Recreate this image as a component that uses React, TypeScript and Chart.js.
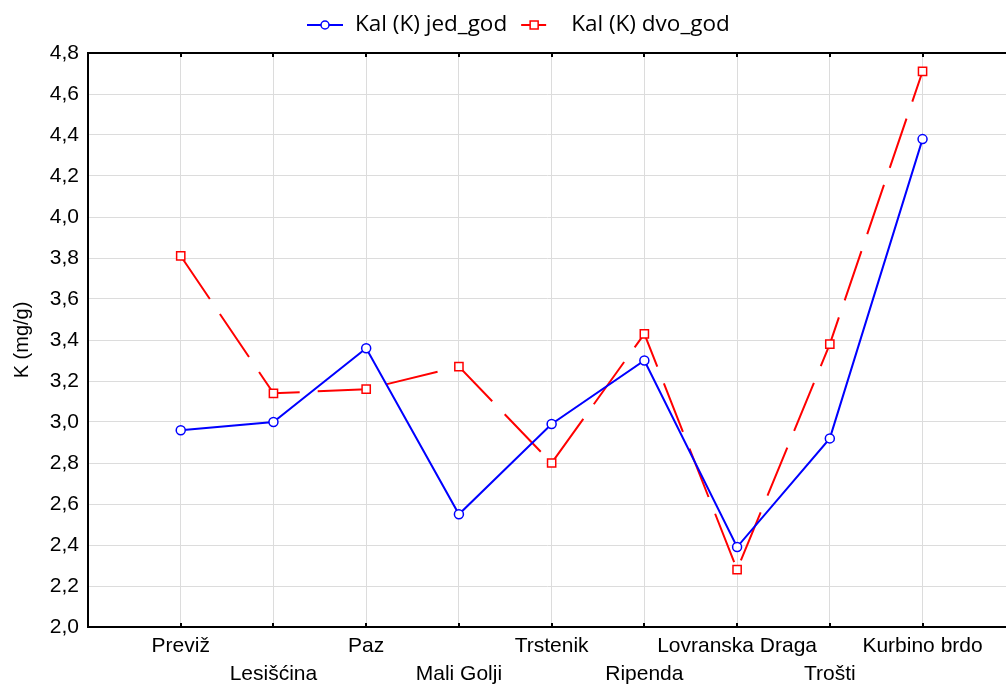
import React, { useEffect, useRef } from 'react';
import { Chart, registerables } from 'chart.js';

Chart.register(...registerables);

const categories = ['Previž', 'Lesišćina', 'Paz', 'Mali Golji', 'Trstenik', 'Ripenda', 'Lovranska Draga', 'Trošti', 'Kurbino brdo'];
const jedGod = [2.96, 3.0, 3.36, 2.55, 2.99, 3.3, 2.39, 2.92, 4.38];
const dvoGod = [3.81, 3.14, 3.16, 3.27, 2.8, 3.43, 2.28, 3.38, 4.71];
const seriesLabels = ['Kal (K) jed_god', 'Kal (K) dvo_god'];
const yTicks = [2.0, 2.2, 2.4, 2.6, 2.8, 3.0, 3.2, 3.4, 3.6, 3.8, 4.0, 4.2, 4.4, 4.6, 4.8];
const yTitle = 'K (mg/g)';

const W = 1006;
const H = 686;

const legendPlugin = {
  id: 'customLegend',
  afterDraw(chart: any) {
    const ctx = chart.ctx as CanvasRenderingContext2D;
    ctx.save();
    ctx.font = '22.5px "Open Sans"';
    ctx.textBaseline = 'middle';
    ctx.fillStyle = '#000';
    const y = 25;
    let x = 307;
    ctx.strokeStyle = '#0000ff';
    ctx.lineWidth = 2;
    ctx.beginPath();
    ctx.moveTo(x, y);
    ctx.lineTo(x + 36, y);
    ctx.stroke();
    ctx.beginPath();
    ctx.lineWidth = 1.5;
    ctx.fillStyle = '#fff';
    ctx.arc(x + 18, y, 4, 0, Math.PI * 2);
    ctx.fill();
    ctx.stroke();
    ctx.fillStyle = '#000';
    ctx.fillText(seriesLabels[0], x + 48, y);
    x = x + 48 + ctx.measureText(seriesLabels[0]).width + 14;
    ctx.strokeStyle = '#ff0000';
    ctx.lineWidth = 2;
    ctx.beginPath();
    ctx.moveTo(x, y);
    ctx.lineTo(x + 25, y);
    ctx.stroke();
    ctx.lineWidth = 1.5;
    ctx.fillStyle = '#fff';
    ctx.fillRect(x + 9, y - 4, 8, 8);
    ctx.strokeRect(x + 9, y - 4, 8, 8);
    ctx.fillStyle = '#000';
    ctx.fillText(seriesLabels[1], x + 50, y);
    ctx.restore();
  },
};

const framePlugin = {
  id: 'frame',
  afterDraw(chart: any) {
    const ctx = chart.ctx as CanvasRenderingContext2D;
    const { left, right, top, bottom } = chart.chartArea;
    const xs = chart.scales.x;
    ctx.save();
    ctx.strokeStyle = '#000';
    ctx.lineWidth = 2;
    ctx.beginPath();
    ctx.moveTo(left - 1, top);
    ctx.lineTo(right, top);
    ctx.stroke();
    categories.forEach((_, i) => {
      const px = Math.round(xs.getPixelForValue(i));
      ctx.beginPath();
      ctx.moveTo(px, top);
      ctx.lineTo(px, top + 4);
      ctx.moveTo(px, bottom);
      ctx.lineTo(px, bottom - 4);
      ctx.stroke();
    });
    ctx.restore();
  },
};

export default function App() {
  const ref = useRef<HTMLCanvasElement>(null);
  useEffect(() => {
    if (!ref.current) return;
    const chart = new Chart(ref.current, {
      type: 'line',
      data: {
        datasets: [
          {
            label: seriesLabels[0],
            data: jedGod.map((v, i) => ({ x: i, y: v })),
            borderColor: '#0000ff',
            borderWidth: 2,
            pointStyle: 'circle',
            pointRadius: 4.5,
            pointBorderWidth: 1.5,
            pointBackgroundColor: '#ffffff',
            pointBorderColor: '#0000ff',
            tension: 0,
          },
          {
            label: seriesLabels[1],
            data: dvoGod.map((v, i) => ({ x: i, y: v })),
            borderColor: '#ff0000',
            borderWidth: 2,
            borderDash: [52, 18],
            pointStyle: 'rect',
            pointRadius: 5.8,
            pointBorderWidth: 1.5,
            pointBackgroundColor: '#ffffff',
            pointBorderColor: '#ff0000',
            tension: 0,
          },
        ],
      },
      options: {
        responsive: false,
        animation: false,
        devicePixelRatio: 1,
        layout: { autoPadding: false, padding: { top: 53, left: 0, right: 0, bottom: 0 } },
        plugins: {
          legend: { display: false },
          tooltip: { enabled: false },
        },
        scales: {
          x: {
            type: 'linear',
            min: -1,
            max: 8.9,
            afterBuildTicks: (scale: any) => {
              scale.ticks = categories.map((_, i) => ({ value: i }));
            },
            afterFit: (scale: any) => {
              scale.height = H - 627;
              scale.paddingLeft = 0;
              scale.paddingRight = 0;
            },
            grid: { color: '#dcdcdc', lineWidth: 1, drawTicks: false, tickLength: 0 },
            border: { display: true, color: '#000', width: 2 },
            ticks: {
              autoSkip: false,
              maxRotation: 0,
              minRotation: 0,
              padding: 5,
              color: '#000',
              font: { family: '"Liberation Sans", Arial, sans-serif', size: 21, lineHeight: 1.35 },
              callback: (value: any) => {
                const i = Math.round(Number(value));
                const name = categories[i] ?? '';
                return i % 2 === 1 ? ['', name] : name;
              },
            },
          },
          y: {
            min: 2,
            max: 4.8,
            afterBuildTicks: (scale: any) => {
              scale.ticks = yTicks.map((v) => ({ value: v }));
            },
            afterFit: (scale: any) => {
              scale.width = 88;
              scale.paddingTop = 0;
              scale.paddingBottom = 0;
            },
            grid: { color: '#dcdcdc', lineWidth: 1, drawTicks: false, tickLength: 0 },
            border: { display: true, color: '#000', width: 2 },
            ticks: {
              padding: 9,
              color: '#000',
              font: { family: '"Liberation Sans", Arial, sans-serif', size: 21 },
              callback: (value: any) => Number(value).toFixed(1).replace('.', ','),
            },
            title: {
              display: true,
              text: yTitle,
              color: '#000',
              padding: { top: 10, bottom: 0 },
              font: { family: '"Liberation Sans", Arial, sans-serif', size: 20 },
            },
          },
        },
      },
      plugins: [legendPlugin, framePlugin],
    });
    return () => chart.destroy();
  }, []);
  return (
    <div style={{ position: 'absolute', left: 0, top: 0, width: W, height: H, background: '#fff' }}>
      <canvas ref={ref} width={W} height={H} style={{ display: 'block' }} />
    </div>
  );
}
